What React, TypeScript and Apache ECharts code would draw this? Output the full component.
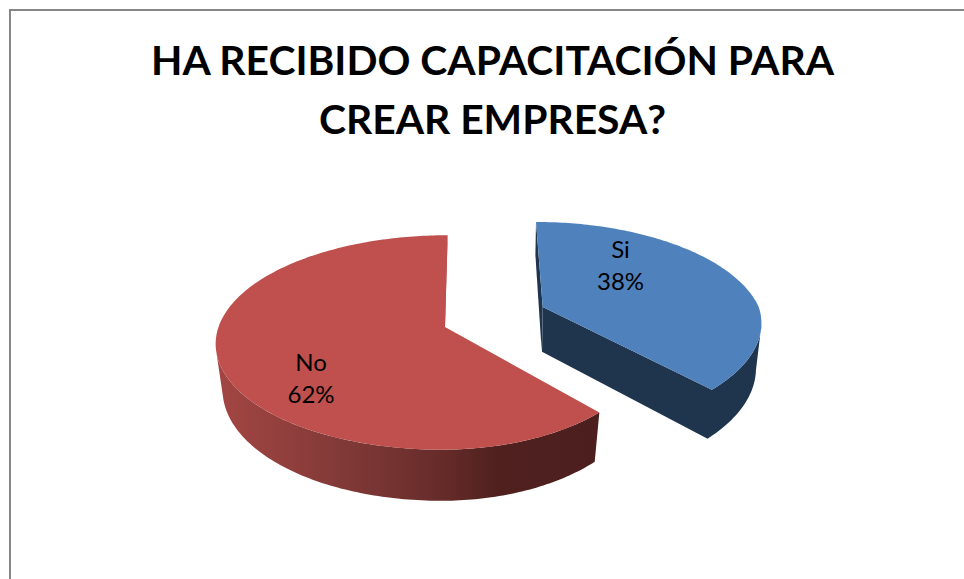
import React, { useEffect, useRef } from "react";
import * as echarts from "echarts";

const titleLines = ["HA RECIBIDO CAPACITACIÓN PARA", "CREAR EMPRESA?"];
const categories = ["Si", "No"];
const values = [38, 62];

const FONT = "Lato, Carlito, 'Open Sans', sans-serif";
const total = values.reduce((p, c) => p + c, 0);

type Geo = {
  apex: [number, number];
  aLeft: number;
  aRight: number;
  b: number;
  k: number;
  shear: number;
  q: number;
  depth: number;
  wx: number;
  label: [number, number];
  face: string;
  wall: any;
  sliver: string;
  sliverPts: [number, number][];
  wallFrom: number;
  wallTo: number;
};

const geos: Geo[] = [
  {
    apex: [542.7, 307],
    aLeft: 216,
    aRight: 216,
    b: 99.5,
    k: 0.17,
    shear: 7.8,
    q: 0.05,
    depth: 44.7,
    wx: 0.975,
    label: [620.5, 264.5],
    face: "#4f81bd",
    wall: "#1f344d",
    sliver: "#1f344d",
    sliverPts: [[536, 222], [535.4, 255], [541.7, 351], [542.7, 307]],
    wallFrom: 100,
    wallTo: 360,
  },
  {
    apex: [445, 327],
    aLeft: 226.5,
    aRight: 205,
    b: 105,
    k: 0.144,
    shear: -3,
    q: 0,
    depth: 45,
    wx: 0.97,
    label: [311, 377],
    face: "#c0504d",
    wall: new echarts.graphic.LinearGradient(0, 0, 1, 0, [
      { offset: 0, color: "#a44643" },
      { offset: 0.32, color: "#823a38" },
      { offset: 0.58, color: "#672c2a" },
      { offset: 0.74, color: "#4f201e" },
      { offset: 1, color: "#4c1f1e" },
    ]),
    sliver: "#a04846",
    sliverPts: [[447.7, 235], [441, 326], [445, 327]],
    wallFrom: 0,
    wallTo: 258,
  },
];

function rim(g: Geo, deg: number): [number, number] {
  const t = (deg * Math.PI) / 180;
  const X = Math.sin(t);
  const Y = -Math.cos(t);
  const s = 1 / (1 - g.k * Y);
  const a = X >= 0 ? g.aRight : g.aLeft;
  return [
    s * (a * X * (1 - g.q * Math.max(Y, 0)) + g.shear * Y),
    s * g.b * Y,
  ];
}

function arc(g: Geo, from: number, to: number, wx: number, wy: number, dy: number) {
  const pts: [number, number][] = [];
  const n = Math.max(2, Math.ceil(Math.abs(to - from)));
  for (let i = 0; i <= n; i++) {
    const p = rim(g, from + ((to - from) * i) / n);
    pts.push([g.apex[0] + p[0] * wx, g.apex[1] + dy + p[1] * wy]);
  }
  return pts;
}

function renderSlice(params: any, api: any) {
  const idx = params.dataIndex;
  const g = geos[idx];
  let start = 0;
  for (let i = 0; i < idx; i++) start += (values[i] / total) * 360;
  const end = start + (Number(api.value(0)) / total) * 360;
  const wFrom = Math.max(start, g.wallFrom);
  const wTo = Math.min(end, g.wallTo);

  const topArc = arc(g, wFrom, wTo, 1, 1, 0);
  const botArc = arc(g, wFrom, wTo, g.wx, 1.05, g.depth);
  const children: any[] = [];
  const wallPoints =
    idx === 0
      ? [
          g.apex,
          ...topArc.slice().reverse(),
          ...botArc,
          [g.apex[0] - 0.7, g.apex[1] + g.depth],
        ]
      : [...topArc, ...botArc.slice().reverse()];
  children.push({
    type: "polygon",
    shape: { points: wallPoints },
    style: { fill: g.wall },
  });
  children.push({ type: "polygon", shape: { points: g.sliverPts }, style: { fill: g.sliver } });
  children.push({
    type: "polygon",
    shape: { points: [g.apex, ...arc(g, start, end, 1, 1, 0)] },
    style: { fill: g.face },
  });
  children.push({
    type: "text",
    x: g.label[0],
    y: g.label[1],
    style: {
      text: `${categories[idx]}\n${Math.round((values[idx] / total) * 100)}%`,
      font: `24px ${FONT}`,
      fill: "#000",
      align: "center",
      verticalAlign: "middle",
      lineHeight: 32,
    },
  });
  return { type: "group", children };
}

export default function App() {
  const ref = useRef<HTMLDivElement>(null);
  useEffect(() => {
    document.body.style.margin = "0";
    const chart = echarts.init(ref.current!, null, { renderer: "svg" });
    chart.setOption({
      animation: false,
      backgroundColor: "#ffffff",
      graphic: [
        {
          type: "polyline",
          shape: { points: [[10, 579], [10, 10], [964, 10]] },
          style: { stroke: "#868686", lineWidth: 2, fill: "none" },
        },
        ...titleLines.map((t, i) => ({
          type: "text",
          x: 492.5,
          y: 59.5 + i * 59,
          style: {
            text: t,
            font: `bold 40.8px ${FONT}`,
            fill: "#000",
            align: "center",
            verticalAlign: "middle",
          },
        })),
      ],
      series: [
        {
          type: "custom",
          coordinateSystem: "none",
          renderItem: renderSlice,
          data: values.map((v, i) => ({ name: categories[i], value: [v] })),
        },
      ],
    });
    return () => chart.dispose();
  }, []);
  return <div ref={ref} style={{ width: 964, height: 579 }} />;
}
